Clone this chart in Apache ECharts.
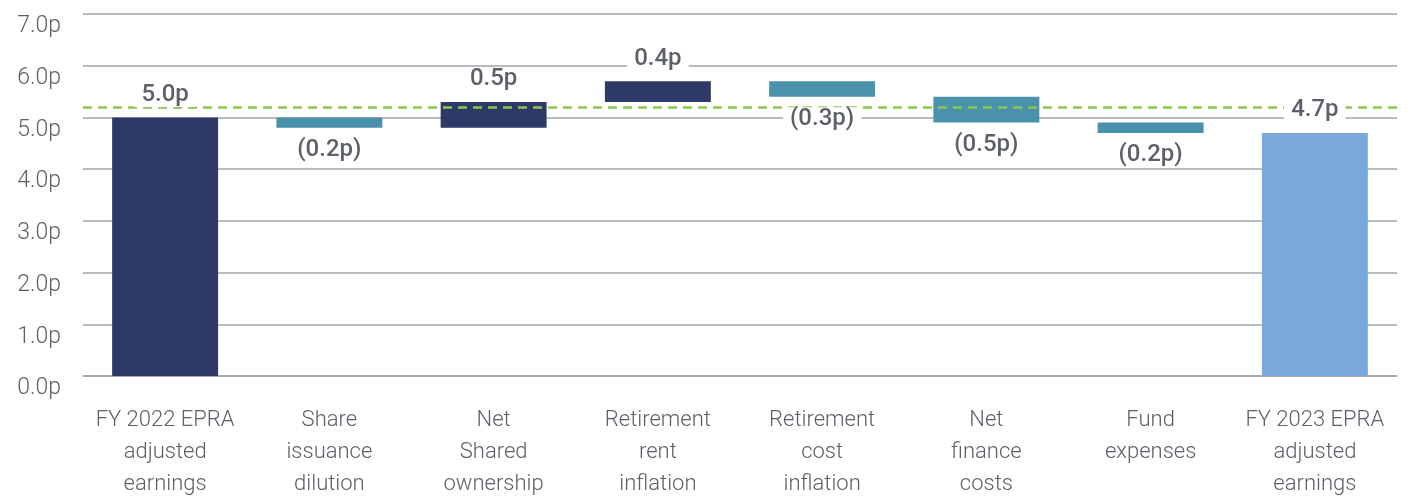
<!DOCTYPE html>
<html>
<head>
<meta charset="utf-8">
<script src="https://cdn.jsdelivr.net/npm/echarts@6/dist/echarts.min.js"></script>
<style>
  html, body { margin: 0; padding: 0; background: #fff; }
  #main { width: 1413px; height: 500px; }
</style>
</head>
<body>
<div id="main"></div>
<script>
// categories and movements (pence per share)
var categories = [
    'FY 2022 EPRA\nadjusted\nearnings',
    'Share\nissuance\ndilution',
    'Net\nShared\nownership',
    'Retirement\nrent\ninflation',
    'Retirement\ncost\ninflation',
    'Net\nfinance\ncosts',
    'Fund\nexpenses',
    'FY 2023 EPRA\nadjusted\nearnings'
];
var changes = [5.0, -0.2, 0.5, 0.4, -0.3, -0.5, -0.2, 4.7];
var isTotal = [true, false, false, false, false, false, false, true];
var yTicks = [0, 1, 2, 3, 4, 5, 6, 7];
var guideLevel = 5.2;

var colors = {
    navy: '#2e3968',
    teal: '#4a92ab',
    light: '#79a9da',
    green: '#8bc653',
    text: '#5c6068',
    grid: '#a3a5a8'
};

// build waterfall: transparent base + visible piece, plus label anchors
var baseData = [];
var pieceData = [];
var labelData = [];
var running = 0;
changes.forEach(function (v, i) {
    var col, anchor;
    var txt = v < 0 ? '(' + Math.abs(v).toFixed(1) + 'p)' : v.toFixed(1) + 'p';
    if (isTotal[i]) {
        baseData.push(0);
        running = v;
        anchor = v;
        col = i === 0 ? colors.navy : colors.light;
    } else if (v >= 0) {
        baseData.push(+running.toFixed(2));
        running += v;
        anchor = running;
        col = colors.navy;
    } else {
        running += v;
        baseData.push(+running.toFixed(2));
        anchor = running;
        col = colors.teal;
    }
    pieceData.push({ value: Math.abs(v), itemStyle: { color: col } });
    labelData.push({
        value: +anchor.toFixed(2),
        label: {
            position: v < 0 ? 'bottom' : 'top',
            formatter: txt
        }
    });
});

var myChart = echarts.init(document.getElementById('main'));

var option = {
    animation: false,
    grid: {
        left: 83,
        right: 16,
        top: 14,
        bottom: 122
    },
    xAxis: {
        type: 'category',
        data: categories,
        axisTick: { show: false },
        axisLine: { lineStyle: { color: colors.grid, width: 1.5 } },
        axisLabel: {
            interval: 0,
            margin: 28,
            fontFamily: 'Roboto',
            fontWeight: 300,
            fontSize: 22,
            lineHeight: 32,
            color: colors.text
        }
    },
    yAxis: {
        type: 'value',
        min: yTicks[0],
        max: yTicks[yTicks.length - 1],
        interval: 1,
        axisLine: { show: false },
        axisTick: { show: false },
        splitLine: { lineStyle: { color: colors.grid, width: 1.5 } },
        axisLabel: {
            margin: 22,
            verticalAlign: 'top',
            padding: [1, 0, 0, 0],
            fontFamily: 'Roboto',
            fontWeight: 300,
            fontSize: 23,
            color: colors.text,
            formatter: function (v) { return v.toFixed(1) + 'p'; }
        }
    },
    series: [
        {
            name: 'base',
            type: 'bar',
            stack: 'wf',
            barWidth: '64.5%',
            itemStyle: { color: 'transparent' },
            silent: true,
            data: baseData
        },
        {
            name: 'change',
            type: 'bar',
            stack: 'wf',
            barWidth: '64.5%',
            data: pieceData,
            markLine: {
                silent: true,
                symbol: 'none',
                label: { show: false },
                lineStyle: { color: colors.green, width: 2.5, type: [9, 6] },
                data: [{ yAxis: guideLevel }]
            }
        },
        {
            name: 'labels',
            type: 'scatter',
            z: 20,
            symbolSize: 1,
            itemStyle: { color: 'rgba(0,0,0,0)', opacity: 1 },
            silent: true,
            label: {
                show: true,
                distance: 10,
                fontFamily: 'Roboto',
                fontWeight: 500,
                fontSize: 24,
                color: colors.text,
                opacity: 1,
                backgroundColor: '#fff',
                padding: [0, 7]
            },
            data: labelData
        }
    ]
};

myChart.setOption(option);

window.onresize = function () {
    myChart.resize();
};
</script>
</body>
</html>
